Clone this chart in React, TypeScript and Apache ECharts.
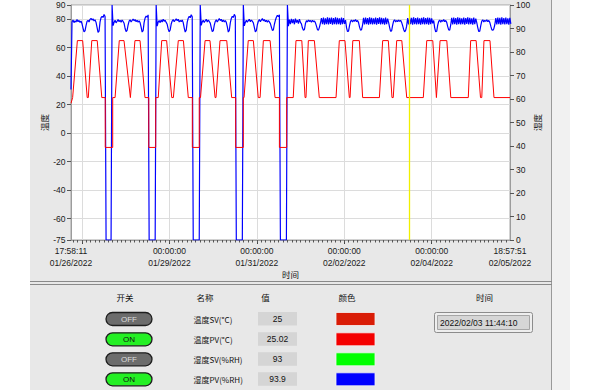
import React, { useEffect, useRef } from "react";
import * as echarts from "echarts";

// ---------- time frame ----------
const START = Date.UTC(2022, 0, 26, 17, 58, 11);
const END = Date.UTC(2022, 1, 5, 18, 57, 51);
const CURSOR = Date.UTC(2022, 1, 3, 11, 44, 10);
const HOUR = 3600000;

const xLabelTimes = [
  START,
  Date.UTC(2022, 0, 29),
  Date.UTC(2022, 0, 31),
  Date.UTC(2022, 1, 2),
  Date.UTC(2022, 1, 4),
  END,
];
const xGridTimes = [
  Date.UTC(2022, 0, 27),
  Date.UTC(2022, 0, 29),
  Date.UTC(2022, 0, 31),
  Date.UTC(2022, 1, 2),
  Date.UTC(2022, 1, 4),
];
const minorTickHours = 2.4;

const tempTicks = [-75, -60, -40, -20, 0, 20, 40, 60, 80, 90];

// ---------- temperature (°C), hours since start ----------
const tempHours = [
  0.0, 0.9, 3.5, 6.4, 8.9, 9.5, 11.4, 14.4, 16.9, 18.8, 18.8, 22.9, 22.9,
  24.2, 26.5, 29.1, 32.6, 32.8, 35.1, 37.9, 40.6, 42.7, 42.7, 46.5, 46.5,
  47.9, 49.8, 52.5, 55.3, 56.2, 58.9, 61.7, 64.4, 66.6, 66.6, 70.4, 70.4,
  71.1, 73.6, 76.3, 79.1, 79.6, 81.8, 85.5, 88.2, 90.4, 90.4, 94.6, 94.6,
  95.0, 97.3, 100.1, 102.8, 103.8, 105.6, 109.3, 112.0, 114.4, 114.4, 118.4, 118.4,
  122.0, 123.5, 126.7, 128.5, 129.0, 130.3, 133.6, 136.3,
  145.5, 147.3, 150.4, 152.8, 153.2, 154.7, 158.3, 160.1,
  169.3, 171.1, 174.2, 176.2, 176.9, 178.8, 181.6, 184.3,
  193.4, 195.3, 198.6, 200.6, 200.8, 202.6, 206.3, 208.5,
  218.1, 219.4, 222.4, 224.8, 225.5, 226.7, 230.0, 232.2, 241.0,
];
const tempValues = [
  21, 25, 65, 65, 25, 25, 65, 65, 25, 25, -10, -10, 25,
  25, 65, 65, 25, 25, 65, 65, 25, 25, -10, -10, 25,
  25, 65, 65, 25, 25, 65, 65, 25, 25, -10, -10, 25,
  25, 65, 65, 25, 25, 65, 65, 25, 25, -10, -10, 25,
  25, 65, 65, 25, 25, 65, 65, 25, 25, -10, -10, 25,
  25, 65, 65, 25, 25, 65, 65, 25,
  25, 65, 65, 25, 25, 65, 65, 25,
  25, 65, 65, 25, 25, 65, 65, 25,
  25, 65, 65, 25, 25, 65, 65, 25,
  25, 65, 65, 25, 25, 65, 65, 25, 25,
];

// ---------- humidity (%RH), one sample every 33 minutes from start ----------
const humiditySampleMinutes = 33;
const humidityValues = [
  64, 92.8, 93.6, 92.5, 93.3, 92.7, 93.8, 92.9, 93.4, 92.6,
  93.2, 92.0, 90.2, 88.6, 89.0, 91.2, 93.0, 93.5, 92.8, 93.9,
  94.3, 93.6, 94.1, 93.2, 93.7, 92.6, 90.5, 88.4, 88.9, 92.8,
  94.6, 95.2, 94.7, 96.0, 95.1, 0, 0, 0, 0, 0,
  0, 100, 91.2, 92.6, 93.5, 92.4, 93.1, 93.8, 92.9, 93.5,
  92.7, 93.6, 93.0, 92.2, 90.0, 88.7, 89.2, 91.5, 93.1, 93.7,
  92.8, 93.4, 94.0, 93.3, 93.8, 92.9, 93.5, 92.7, 93.3, 92.4,
  90.6, 88.5, 89.1, 92.6, 94.5, 95.3, 94.8, 95.8, 0, 0,
  0, 0, 0, 0, 0, 100, 91.0, 92.7, 93.4, 92.5,
  93.6, 92.8, 93.9, 93.1, 93.5, 92.6, 91.8, 89.8, 88.6, 89.4,
  91.9, 93.2, 93.8, 92.9, 93.5, 94.1, 93.3, 93.9, 92.8, 93.4,
  92.9, 93.6, 92.5, 90.3, 88.5, 89.3, 92.7, 94.4, 95.2, 94.6,
  95.9, 95.0, 0, 0, 0, 0, 0, 0, 0, 100,
  91.3, 92.8, 93.5, 92.6, 93.3, 93.9, 92.8, 93.6, 93.0, 92.3,
  90.4, 88.7, 89.0, 91.4, 93.0, 93.7, 92.8, 93.5, 94.2, 93.4,
  93.9, 92.9, 93.6, 92.8, 93.4, 92.6, 90.8, 88.5, 89.2, 92.4,
  94.3, 95.2, 94.7, 96.0, 95.2, 0, 0, 0, 0, 0,
  0, 0, 100, 91.1, 92.6, 93.5, 92.7, 93.4, 93.9, 92.9,
  93.6, 93.1, 92.4, 90.5, 88.6, 89.1, 91.6, 93.1, 93.8, 92.9,
  93.6, 94.2, 93.3, 93.8, 92.9, 93.5, 92.7, 93.4, 92.8, 92.1,
  90.6, 89.2, 89.4, 91.8, 93.5, 94.8, 95.6, 95.0, 95.9, 0,
  0, 0, 0, 0, 0, 0, 100, 91.0, 93.8, 91.9,
  94.1, 92.3, 93.9, 91.8, 94.2, 92.5, 93.6, 92.1, 94.0, 92.6,
  92.0, 90.2, 89.3, 89.6, 92.1, 93.3, 92.8, 93.6, 93.0, 93.4,
  92.7, 93.5, 92.9, 93.2, 92.4, 91.0, 89.5, 89.3, 90.6, 92.4,
  94.4, 91.8, 94.6, 91.6, 94.3, 91.9, 94.7, 91.7, 94.5, 92.0,
  94.6, 91.6, 94.4, 91.8, 94.7, 91.7, 94.5, 91.9, 94.3, 91.6,
  94.6, 91.8, 94.4, 92.0, 93.6, 90.4, 88.7, 88.9, 91.2, 93.0,
  93.6, 92.8, 93.5, 93.1, 93.8, 92.9, 93.4, 92.5, 90.6, 89.3,
  89.5, 91.4, 94.5, 91.7, 94.6, 91.8, 94.4, 91.6, 94.7, 91.9,
  94.5, 91.7, 94.3, 91.8, 94.6, 91.6, 94.4, 92.0, 94.7, 91.7,
  94.5, 91.9, 94.3, 91.6, 94.6, 91.8, 94.2, 92.6, 90.5, 88.8,
  89.0, 91.3, 93.1, 93.7, 92.8, 93.4, 92.9, 93.6, 93.0, 93.5,
  92.6, 91.2, 89.6, 88.6, 89.2, 91.0, 94.4, 91.7, 94.6, 91.8,
  94.5, 91.6, 94.7, 91.9, 94.4, 91.7, 94.6, 91.8, 94.3, 91.6,
  94.5, 91.9, 94.7, 91.7, 94.4, 91.8, 94.6, 91.6, 94.5, 91.9,
  94.3, 92.2, 93.4, 90.3, 88.6, 88.8, 91.4, 93.0, 93.6, 92.7,
  93.5, 93.0, 93.8, 92.9, 93.4, 92.6, 90.8, 89.4, 89.3, 91.5,
  94.5, 91.7, 94.6, 91.8, 94.4, 91.6, 94.7, 91.9, 94.5, 91.7,
  94.3, 91.8, 94.6, 91.6, 94.4, 92.0, 94.7, 91.7, 94.5, 91.9,
  94.3, 91.6, 94.6, 91.8, 94.2, 92.5, 90.4, 88.7, 88.9, 91.2,
  93.1, 93.7, 92.8, 93.5, 93.0, 93.7, 92.9, 93.4, 92.6, 91.0,
  89.5, 89.2, 89.8, 91.6, 94.4, 91.7, 94.6, 91.8, 94.5, 91.6,
  94.7, 91.9, 94.4, 91.7, 94.6, 91.8, 94.3, 91.6, 94.5, 92.0,
];

// ---------- lower panel ----------
const headers = ["开关", "名称", "值", "颜色", "时间"];
const rowSwitch = [false, true, false, true];
const rowNames = ["温度SV(°C)", "温度PV(°C)", "湿度SV(%RH)", "湿度PV(%RH)"];
const rowValues = ["25", "25.02", "93", "93.9"];
const rowColors = ["#d91c06", "#f40000", "#00ff00", "#0000ff"];
const cursorText = "2022/02/03 11:44:10";

const LATIN = "Liberation Sans";
const CJK = "Noto Sans CJK SC";

const pad = (n: number) => String(n).padStart(2, "0");
function fmtTime(v: number) {
  const d = new Date(v);
  return (
    `${pad(d.getUTCHours())}:${pad(d.getUTCMinutes())}:${pad(d.getUTCSeconds())}\n` +
    `${pad(d.getUTCMonth() + 1)}/${pad(d.getUTCDate())}/${d.getUTCFullYear()}`
  );
}

function buildOption() {
  const redData = tempHours.map((h, i) => [START + h * HOUR, tempValues[i]]);
  const blueData = humidityValues.map((v, i) => [
    START + i * humiditySampleMinutes * 60000,
    v,
  ]);

  const minorTicks: number[] = [];
  const anchor = xGridTimes[0];
  const step = minorTickHours * HOUR;
  for (let t = anchor; t >= START; t -= step) minorTicks.push(t);
  for (let t = anchor + step; t <= END; t += step) minorTicks.push(t);

  const labelStyle = { fontFamily: LATIN, fontSize: 8.5, color: "#1a1a1a" };
  const axisLineStyle = { color: "#9c9c9c", width: 1 };

  const g: any[] = [];
  // panel backgrounds
  g.push({ type: "rect", z: -10, silent: true, shape: { x: 30, y: 0, width: 522, height: 390 }, style: { fill: "#e8e8e8" } });
  g.push({ type: "rect", z: -10, silent: true, shape: { x: 552, y: 0, width: 18, height: 390 }, style: { fill: "#f1f1f1" } });
  g.push({ type: "line", z: -9, silent: true, shape: { x1: 551.5, y1: 0, x2: 551.5, y2: 390 }, style: { stroke: "#9a9a9a", lineWidth: 1 } });
  g.push({ type: "line", z: -9, silent: true, shape: { x1: 30, y1: 281.5, x2: 552, y2: 281.5 }, style: { stroke: "#8a8a8a", lineWidth: 1 } });
  g.push({ type: "line", z: -9, silent: true, shape: { x1: 30, y1: 284.5, x2: 552, y2: 284.5 }, style: { stroke: "#8a8a8a", lineWidth: 1 } });

  const headerX = [125, 205, 265.5, 347, 484.5];
  headers.forEach((h, i) => {
    g.push({
      type: "text",
      x: headerX[i],
      y: 297,
      style: { text: h, fill: "#111", fontFamily: CJK, fontSize: 8.5, align: "center", verticalAlign: "middle", textAlign: "center", textVerticalAlign: "middle" },
    });
  });

  const rowY = [319, 339.3, 359.3, 379.3];
  rowY.forEach((cy, i) => {
    const on = rowSwitch[i];
    g.push({
      type: "rect",
      shape: { x: 106, y: cy - 6.5, width: 46, height: 13, r: 6.5 },
      style: { fill: on ? "#24f024" : "#6c6c6c", stroke: "#1e1e1e", lineWidth: 1.3 },
    });
    g.push({
      type: "text",
      x: 129,
      y: cy,
      style: { text: on ? "ON" : "OFF", fill: on ? "#111" : "#dedede", fontFamily: LATIN, fontSize: 8, align: "center", verticalAlign: "middle", textAlign: "center", textVerticalAlign: "middle" },
    });
    g.push({
      type: "text",
      x: 193.5,
      y: cy + 0.5,
      style: { text: rowNames[i], fill: "#111", fontFamily: CJK, fontSize: 8, align: "left", verticalAlign: "middle", textAlign: "left", textVerticalAlign: "middle" },
    });
    g.push({
      type: "rect",
      shape: { x: 258, y: cy - 7, width: 39, height: 13.5 },
      style: { fill: "#d5d5d5" },
    });
    g.push({
      type: "text",
      x: 277.5,
      y: cy - 0.5,
      style: { text: rowValues[i], fill: "#111", fontFamily: LATIN, fontSize: 8.5, align: "center", verticalAlign: "middle", textAlign: "center", textVerticalAlign: "middle" },
    });
    g.push({
      type: "rect",
      shape: { x: 336, y: cy - 6.5, width: 39, height: 13 },
      style: { fill: rowColors[i], stroke: "#f4f4f4", lineWidth: 0.8 },
    });
  });

  // time display box
  g.push({ type: "rect", shape: { x: 434.5, y: 312.5, width: 98, height: 20, r: 2 }, style: { fill: "#eeeeee", stroke: "#8c8c8c", lineWidth: 1 } });
  g.push({ type: "rect", shape: { x: 437.5, y: 315.5, width: 92, height: 14 }, style: { fill: "#d6d6d6", stroke: "#a6a6a6", lineWidth: 1 } });
  g.push({
    type: "text",
    x: 440,
    y: 322.8,
    style: { text: cursorText, fill: "#111", fontFamily: LATIN, fontSize: 8.5, align: "left", verticalAlign: "middle", textAlign: "left", textVerticalAlign: "middle" },
  });

  return {
    animation: false,
    backgroundColor: "#ffffff",
    grid: {
      left: 71,
      right: 89,
      top: 5,
      bottom: 150,
      containLabel: false,
      outerBoundsMode: "none",
      show: true,
      backgroundColor: "#ffffff",
      borderColor: "#a4a4a4",
      borderWidth: 1,
    },
    xAxis: [
      {
        type: "value",
        min: START,
        max: END,
        position: "bottom",
        name: "时间",
        nameLocation: "middle",
        nameGap: 30,
        nameMoveOverlap: false,
        nameTextStyle: { fontFamily: CJK, fontSize: 8.5, color: "#111" },
        axisLine: { show: true, onZero: false, lineStyle: axisLineStyle },
        axisTick: { show: true, length: 4, customValues: xGridTimes, lineStyle: { color: "#444" } },
        axisLabel: {
          customValues: xLabelTimes,
          formatter: (v: number) => fmtTime(v),
          margin: 5,
          lineHeight: 12,
          ...labelStyle,
        },
        splitLine: { show: true, lineStyle: { color: "#dcdcdc", width: 1 } },
      },
      {
        type: "value",
        min: START,
        max: END,
        position: "bottom",
        axisLine: { show: false, onZero: false },
        axisTick: { show: true, length: 2.5, customValues: minorTicks, lineStyle: { color: "#555" } },
        axisLabel: { show: false },
        splitLine: { show: false },
      },
    ],
    yAxis: [
      {
        type: "value",
        min: -75,
        max: 90,
        splitNumber: 8,
        position: "left",
        name: "温度",
        nameLocation: "middle",
        nameRotate: 90,
        nameGap: 23,
        nameMoveOverlap: false,
        nameTextStyle: { fontFamily: CJK, fontSize: 8.5, color: "#111" },
        axisLine: { show: true, onZero: false, lineStyle: axisLineStyle },
        axisTick: { show: true, length: 4, customValues: tempTicks, lineStyle: { color: "#555" } },
        axisLabel: { customValues: tempTicks, margin: 5.5, ...labelStyle },
        splitLine: { show: true, lineStyle: { color: "#dcdcdc", width: 1 } },
      },
      {
        type: "value",
        min: 0,
        max: 100,
        interval: 10,
        position: "right",
        name: "湿度",
        nameLocation: "middle",
        nameRotate: 90,
        nameGap: 23,
        nameMoveOverlap: false,
        nameTextStyle: { fontFamily: CJK, fontSize: 8.5, color: "#111" },
        axisLine: { show: true, onZero: false, lineStyle: axisLineStyle },
        axisTick: { show: true, length: 4, lineStyle: { color: "#555" } },
        axisLabel: { margin: 6, ...labelStyle },
        splitLine: { show: false },
      },
    ],
    series: [
      {
        name: "湿度PV(%RH)",
        type: "line",
        xAxisIndex: 0,
        yAxisIndex: 1,
        data: blueData,
        showSymbol: false,
        symbol: "none",
        lineStyle: { color: "#0000ff", width: 1.2 },
        itemStyle: { color: "#0000ff" },
        emphasis: { disabled: true },
        z: 2,
      },
      {
        name: "温度PV(°C)",
        type: "line",
        xAxisIndex: 0,
        yAxisIndex: 0,
        data: redData,
        showSymbol: false,
        symbol: "none",
        lineStyle: { color: "#ff0000", width: 1 },
        itemStyle: { color: "#ff0000" },
        emphasis: { disabled: true },
        z: 3,
        markLine: {
          silent: true,
          symbol: ["none", "none"],
          label: { show: false },
          lineStyle: { color: "#f0f000", width: 1.3, type: "solid", opacity: 1 },
          data: [{ xAxis: CURSOR }],
        },
      },
    ],
    graphic: { elements: g },
  };
}

export default function App() {
  const ref = useRef<HTMLDivElement>(null);
  useEffect(() => {
    document.body.style.margin = "0";
    const chart = echarts.init(ref.current!, null, { renderer: "svg" });
    chart.setOption(buildOption() as any);
    return () => chart.dispose();
  }, []);
  return (
    <div
      ref={ref}
      style={{ position: "absolute", left: 0, top: 0, width: 599, height: 390 }}
    />
  );
}
